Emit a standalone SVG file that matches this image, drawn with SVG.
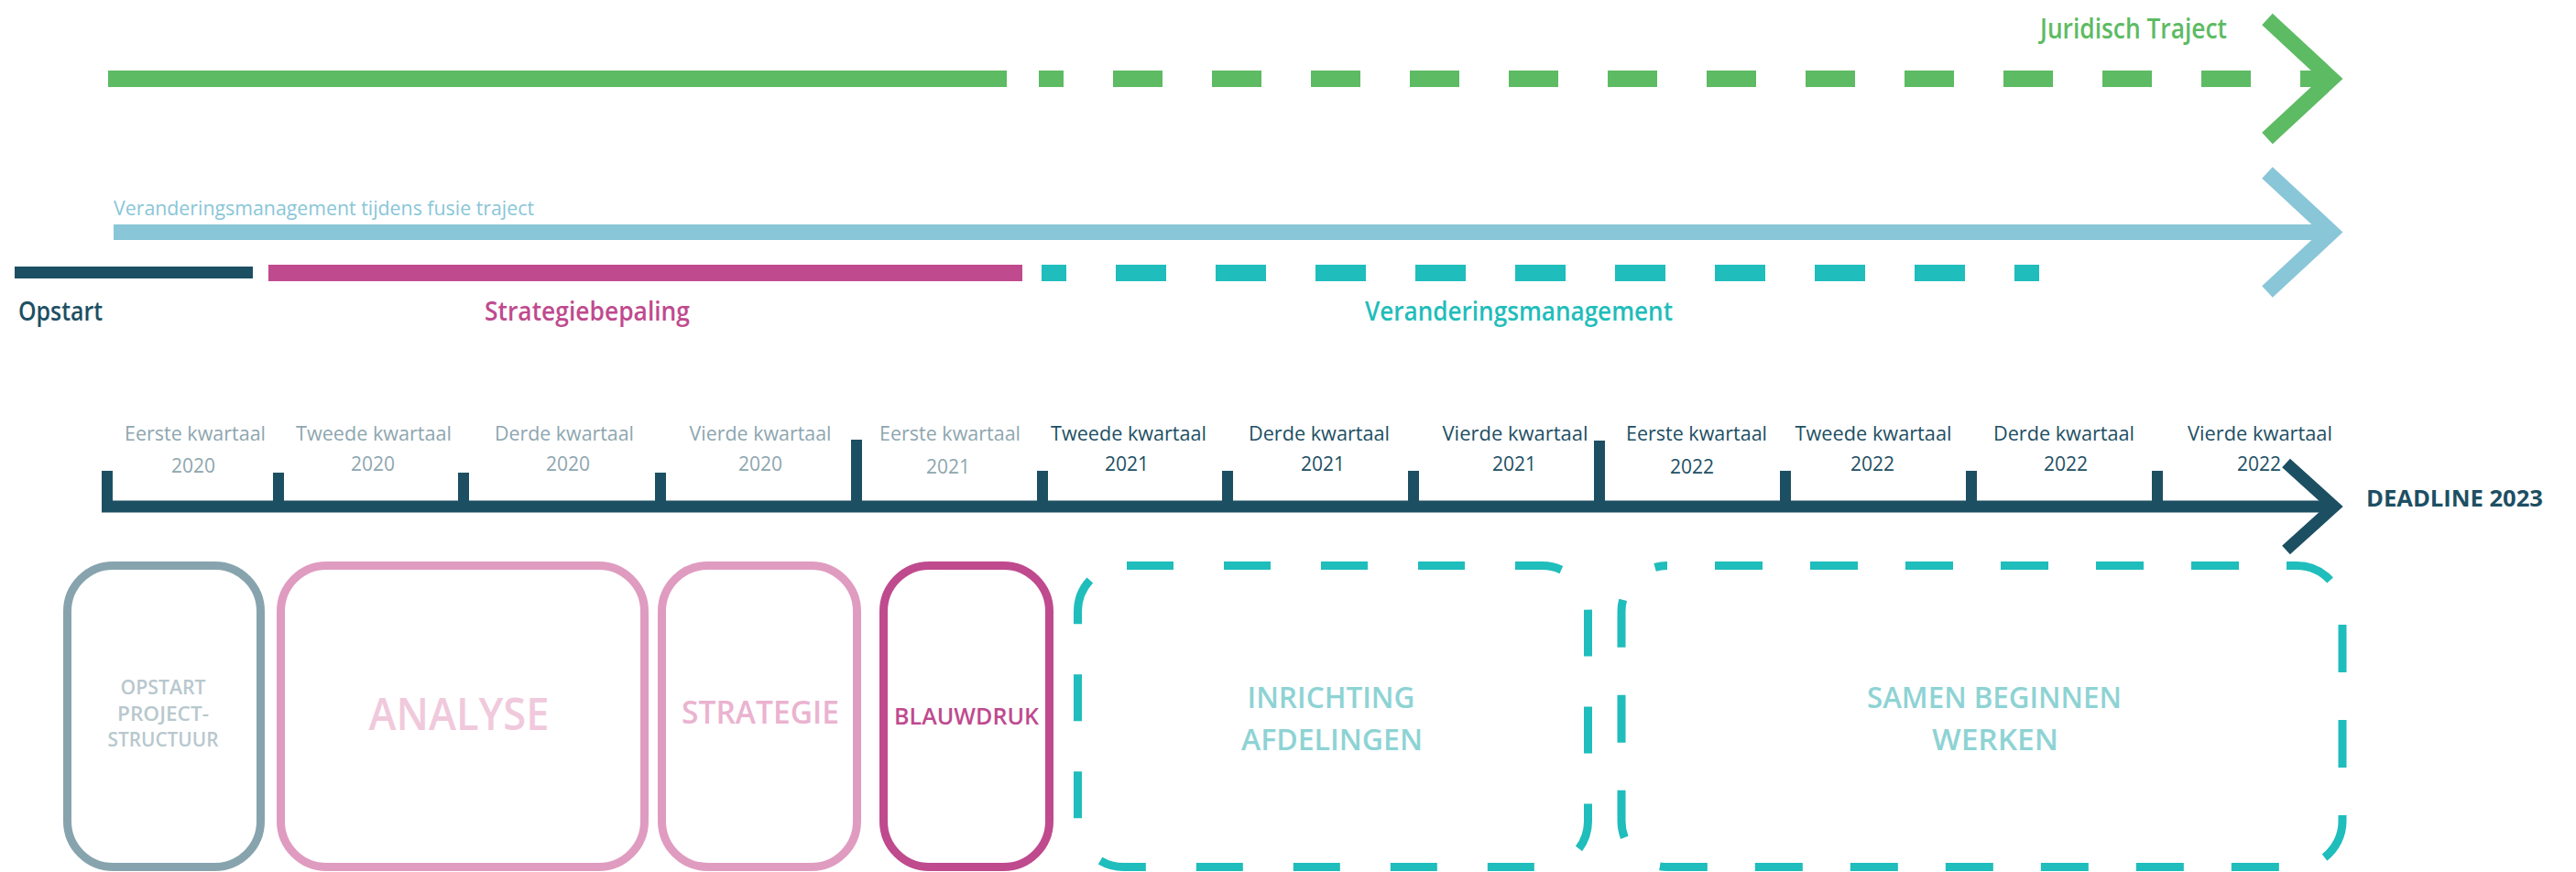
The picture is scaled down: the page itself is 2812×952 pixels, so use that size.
<svg xmlns="http://www.w3.org/2000/svg" width="2812" height="952" viewBox="0 0 2812 952">
<style>
text{font-family:"Open Sans","Liberation Sans",sans-serif}
.ql{fill:#8EA6AF}
.qd{fill:#1D4F63}
.lbl{font-weight:600;text-anchor:middle}
.chev{fill:none;stroke-linejoin:miter;stroke-linecap:butt;stroke-miterlimit:10}
.box{fill:none;stroke-width:9}
.dbox{fill:none;stroke-width:9;stroke:#1FBDBB}
</style>
<rect width="2812" height="952" fill="#ffffff"/>

<g id="connectors">
  <!-- Juridisch traject -->
  <line x1="118" y1="86" x2="1099" y2="86" stroke="#5DBB63" stroke-width="18"/>
  <line x1="1134" y1="86" x2="1161" y2="86" stroke="#5DBB63" stroke-width="18"/>
  <line x1="1215" y1="86" x2="2545" y2="86" stroke="#5DBB63" stroke-width="18" stroke-dasharray="54 54"/>
  <polyline class="chev" points="2475,21 2545,86 2475,151" stroke="#5DBB63" stroke-width="17"/>
  <!-- Veranderingsmanagement tijdens fusie traject -->
  <line x1="124" y1="253.5" x2="2545" y2="253.5" stroke="#89C6D8" stroke-width="17"/>
  <polyline class="chev" points="2475,188.5 2545,253.5 2475,318.5" stroke="#89C6D8" stroke-width="17"/>
  <!-- phases -->
  <line x1="16" y1="297.5" x2="276" y2="297.5" stroke="#1D4F63" stroke-width="13"/>
  <line x1="293" y1="298" x2="1116" y2="298" stroke="#BF4A8E" stroke-width="18"/>
  <line x1="1137" y1="298" x2="1164" y2="298" stroke="#1FBDBB" stroke-width="18"/>
  <line x1="1218" y1="298" x2="2226" y2="298" stroke="#1FBDBB" stroke-width="18" stroke-dasharray="55 54"/>
</g>

<g id="track-labels">
  <text x="2227" y="42" font-size="30" font-weight="600" fill="#5DBB63" textLength="204" lengthAdjust="spacingAndGlyphs">Juridisch Traject</text>
  <text x="124" y="235" font-size="21" fill="#89C6D8" textLength="459" lengthAdjust="spacingAndGlyphs">Veranderingsmanagement tijdens fusie traject</text>
  <text x="20" y="350" font-size="28" font-weight="600" fill="#1D4F63" textLength="92" lengthAdjust="spacingAndGlyphs">Opstart</text>
  <text x="529" y="350" font-size="28" font-weight="600" fill="#BF4A8E" textLength="224" lengthAdjust="spacingAndGlyphs">Strategiebepaling</text>
  <text x="1490" y="350" font-size="28" font-weight="600" fill="#1FBDBB" textLength="336" lengthAdjust="spacingAndGlyphs">Veranderingsmanagement</text>
</g>

<g id="timeline">
  <line x1="111" y1="553" x2="2548" y2="553" stroke="#1D4F63" stroke-width="13"/>
  <polyline class="chev" points="2495.5,505.5 2548,553 2495.5,600.5" stroke="#1D4F63" stroke-width="13"/>
  <g fill="#1D4F63">
    <rect x="111" y="514" width="12" height="39"/>
    <rect x="298" y="516" width="12" height="37"/>
    <rect x="500" y="516" width="12" height="37"/>
    <rect x="715" y="516" width="12" height="37"/>
    <rect x="929" y="480" width="12" height="73"/>
    <rect x="1132" y="514" width="12" height="39"/>
    <rect x="1334" y="514" width="12" height="39"/>
    <rect x="1537" y="514" width="12" height="39"/>
    <rect x="1740" y="481" width="12" height="72"/>
    <rect x="1943" y="514" width="12" height="39"/>
    <rect x="2146" y="514" width="12" height="39"/>
    <rect x="2349" y="514" width="12" height="39"/>
  </g>
  <g font-size="21" text-anchor="middle">
    <text class="ql" x="213" y="481" textLength="154" lengthAdjust="spacingAndGlyphs">Eerste kwartaal</text>
    <text class="ql" x="211" y="516">2020</text>
    <text class="ql" x="408" y="481" textLength="170" lengthAdjust="spacingAndGlyphs">Tweede kwartaal</text>
    <text class="ql" x="407" y="514">2020</text>
    <text class="ql" x="616" y="481" textLength="152" lengthAdjust="spacingAndGlyphs">Derde kwartaal</text>
    <text class="ql" x="620" y="514">2020</text>
    <text class="ql" x="830" y="481" textLength="155" lengthAdjust="spacingAndGlyphs">Vierde kwartaal</text>
    <text class="ql" x="830" y="514">2020</text>
    <text class="ql" x="1037" y="481" textLength="154" lengthAdjust="spacingAndGlyphs">Eerste kwartaal</text>
    <text class="ql" x="1035" y="517">2021</text>
    <text class="qd" x="1232" y="481" textLength="170" lengthAdjust="spacingAndGlyphs">Tweede kwartaal</text>
    <text class="qd" x="1230" y="514">2021</text>
    <text class="qd" x="1440" y="481" textLength="154" lengthAdjust="spacingAndGlyphs">Derde kwartaal</text>
    <text class="qd" x="1444" y="514">2021</text>
    <text class="qd" x="1654" y="481" textLength="159" lengthAdjust="spacingAndGlyphs">Vierde kwartaal</text>
    <text class="qd" x="1653" y="514">2021</text>
    <text class="qd" x="1852" y="481" textLength="154" lengthAdjust="spacingAndGlyphs">Eerste kwartaal</text>
    <text class="qd" x="1847" y="517">2022</text>
    <text class="qd" x="2045" y="481" textLength="171" lengthAdjust="spacingAndGlyphs">Tweede kwartaal</text>
    <text class="qd" x="2044" y="514">2022</text>
    <text class="qd" x="2253" y="481" textLength="154" lengthAdjust="spacingAndGlyphs">Derde kwartaal</text>
    <text class="qd" x="2255" y="514">2022</text>
    <text class="qd" x="2467" y="481" textLength="158" lengthAdjust="spacingAndGlyphs">Vierde kwartaal</text>
    <text class="qd" x="2466" y="514">2022</text>
  </g>
  <text x="2583" y="553" font-size="25" font-weight="700" fill="#1D4F63" textLength="193" lengthAdjust="spacingAndGlyphs">DEADLINE 2023</text>
</g>

<g id="node-opstart">
  <rect class="box" x="73.5" y="617.5" width="211" height="329" rx="50" ry="50" stroke="#87A4AE"/>
  <g class="lbl" font-size="21" fill="#B8C8CE">
    <text x="178" y="758" textLength="93" lengthAdjust="spacingAndGlyphs">OPSTART</text>
    <text x="178" y="787" textLength="100" lengthAdjust="spacingAndGlyphs">PROJECT-</text>
    <text x="178" y="815" textLength="121" lengthAdjust="spacingAndGlyphs">STRUCTUUR</text>
  </g>
</g>

<g id="node-analyse">
  <rect class="box" x="306.5" y="617.5" width="397" height="329" rx="50" ry="50" stroke="#DF9CC0"/>
  <text class="lbl" x="501" y="797" font-size="48" fill="#F0C9DC" textLength="197" lengthAdjust="spacingAndGlyphs">ANALYSE</text>
</g>

<g id="node-strategie">
  <rect class="box" x="722.5" y="617.5" width="213" height="329" rx="50" ry="50" stroke="#DF9CC0"/>
  <text class="lbl" x="830" y="790" font-size="34" fill="#EAB3CF" textLength="172" lengthAdjust="spacingAndGlyphs">STRATEGIE</text>
</g>

<g id="node-blauwdruk">
  <rect class="box" x="964.5" y="617.5" width="181" height="329" rx="50" ry="50" stroke="#BF4A8E"/>
  <text class="lbl" x="1055" y="791" font-size="26" fill="#BF4A8E" textLength="158" lengthAdjust="spacingAndGlyphs">BLAUWDRUK</text>
</g>

<g id="node-inrichting">
  <rect class="dbox" x="1176.5" y="617.5" width="557" height="329" rx="50" ry="50" stroke-dasharray="51 55" stroke-dashoffset="-3.5"/>
  <g class="lbl" font-size="33" fill="#8ED3D4">
    <text x="1453" y="773" textLength="183" lengthAdjust="spacingAndGlyphs">INRICHTING</text>
    <text x="1454" y="819" textLength="198" lengthAdjust="spacingAndGlyphs">AFDELINGEN</text>
  </g>
</g>

<g id="node-samen">
  <rect class="dbox" x="1770" y="617.5" width="787" height="329" rx="50" ry="50" stroke-dasharray="52 52" stroke-dashoffset="52"/>
  <g class="lbl" font-size="33" fill="#8ED3D4">
    <text x="2177" y="773" textLength="278" lengthAdjust="spacingAndGlyphs">SAMEN BEGINNEN</text>
    <text x="2178" y="819" textLength="138" lengthAdjust="spacingAndGlyphs">WERKEN</text>
  </g>
</g>
</svg>
